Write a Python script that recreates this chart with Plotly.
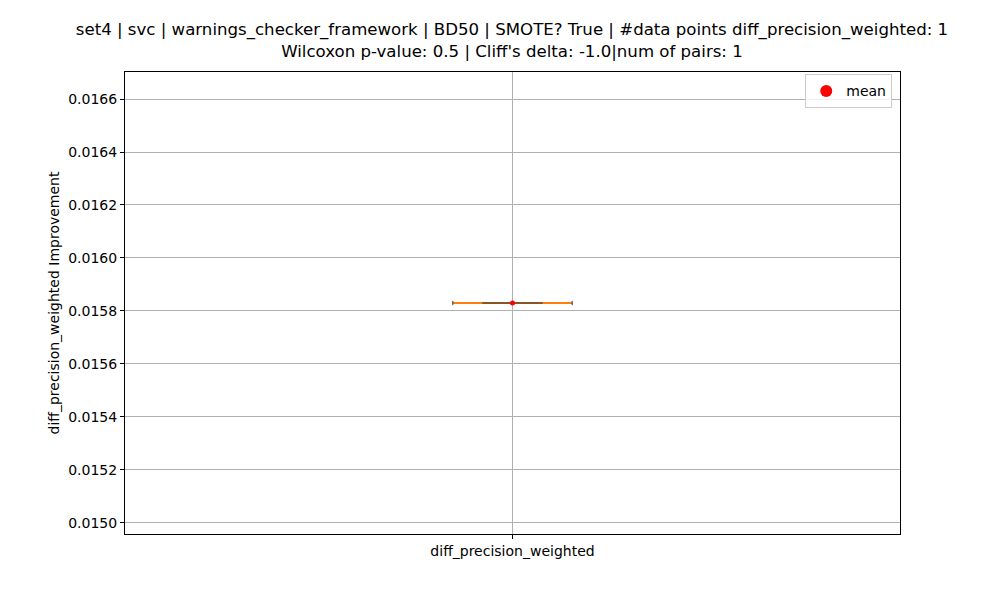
import plotly.graph_objects as go

# data
category = "diff_precision_weighted"
values = [0.01583]
mean_value = sum(values) / len(values)
tick_vals = [0.0150, 0.0152, 0.0154, 0.0156, 0.0158, 0.0160, 0.0162, 0.0164, 0.0166]

title = ("set4 | svc | warnings_checker_framework | BD50 | SMOTE? True | #data points diff_precision_weighted: 1"
         "<br>Wilcoxon p-value: 0.5 | Cliff's delta: -1.0|num of pairs: 1")

pos = 1
cap_half = 0.077
box_half = 0.039
lo, hi = min(values), max(values)

fig = go.Figure()
# whisker caps + median (all collapse onto one value)
fig.add_trace(go.Scatter(x=[pos - cap_half, pos + cap_half], y=[lo, hi], mode="lines",
                         line=dict(color="#ff7f0e", width=2), showlegend=False, hoverinfo="skip"))
fig.add_trace(go.Scatter(x=[pos - box_half, pos + box_half], y=[lo, hi], mode="lines",
                         line=dict(color="#8a5424", width=2), showlegend=False, hoverinfo="skip"))
fig.add_trace(go.Scatter(x=[pos - cap_half, pos + cap_half], y=[lo, hi], mode="markers",
                         marker=dict(symbol="line-ns", size=3, line=dict(color="#333333", width=1)),
                         showlegend=False, hoverinfo="skip"))
# mean
fig.add_trace(go.Scatter(x=[pos], y=[mean_value], mode="markers",
                         marker=dict(color="red", size=5), showlegend=False))
fig.add_trace(go.Scatter(x=[None], y=[None], mode="markers", name="mean",
                         marker=dict(color="red", size=12)))

axis_common = dict(showline=True, linecolor="black", linewidth=1, mirror=True,
                   showgrid=True, gridcolor="#b0b0b0", gridwidth=1, zeroline=False,
                   ticks="outside", ticklen=4, tickcolor="black",
                   tickfont=dict(size=14, color="black"))

fig.update_layout(
    width=1000, height=600,
    margin=dict(l=117, r=108, t=64, b=74),
    paper_bgcolor="white", plot_bgcolor="white",
    font=dict(family="DejaVu Sans", color="black"),
    title=dict(text=title, x=0.504, xanchor="center", y=0.955, yanchor="top",
               font=dict(size=16.6)),
    xaxis=dict(range=[0.5, 1.5], tickvals=[pos], ticktext=[category], **axis_common),
    yaxis=dict(range=[0.014958, 0.016702], tickvals=tick_vals, tickformat=".4f",
               title=dict(text=category + " Improvement", font=dict(size=14), standoff=5),
               **axis_common),
    legend=dict(x=0.99, y=0.995, xanchor="right", yanchor="top",
                bordercolor="#cccccc", borderwidth=1, bgcolor="rgba(255,255,255,0.8)",
                font=dict(size=14), tracegroupgap=0, itemsizing="trace"),
)

fig.write_html("out.html")
